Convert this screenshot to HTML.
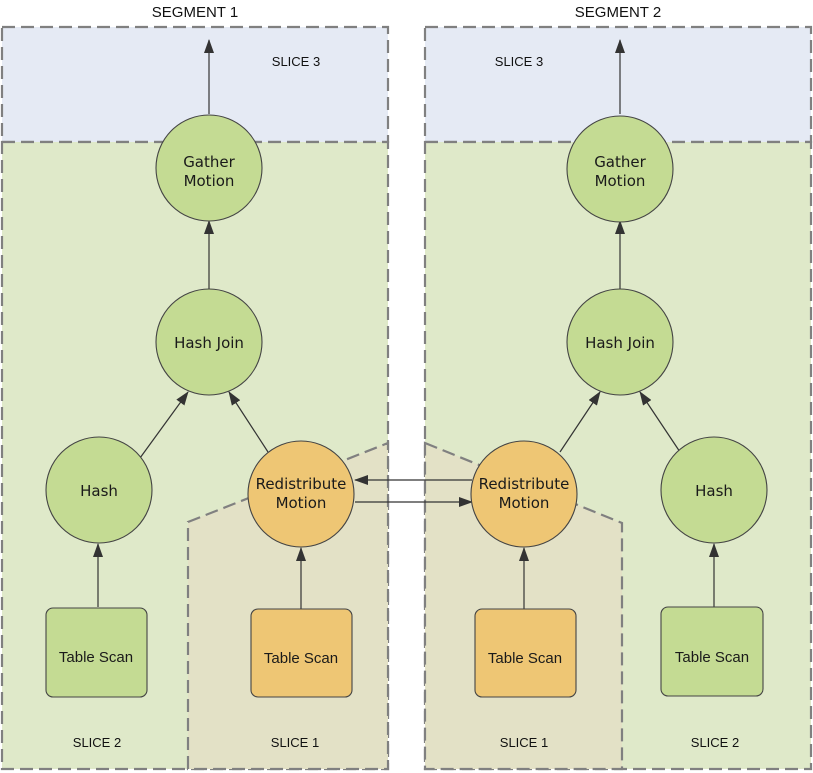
<!DOCTYPE html>
<html><head><meta charset="utf-8"><style>body{margin:0;background:#fff}svg{display:block}</style></head>
<body>
<svg width="813" height="773" viewBox="0 0 813 773" xmlns="http://www.w3.org/2000/svg" font-family="'DejaVu Sans','Liberation Sans',sans-serif">
<defs>
<marker id="a" viewBox="0 0 14 10" refX="13" refY="5" markerWidth="14" markerHeight="10" markerUnits="userSpaceOnUse" orient="auto"><path d="M0,0L14,5L0,10z" fill="#333"/></marker>
</defs>
<g stroke="#808080" stroke-width="2.2" stroke-dasharray="13,6">
<rect x="2" y="27" width="386" height="115" fill="#e5eaf4"/>
<rect x="2" y="142" width="386" height="627" fill="#dfe9c9"/>
<polygon points="188,522 388,443 388,769 188,769" fill="#e3e1c6"/>
<rect x="425" y="27" width="386" height="115" fill="#e5eaf4"/>
<rect x="425" y="142" width="386" height="627" fill="#dfe9c9"/>
<polygon points="425,443 622,523 622,769 425,769" fill="#e3e1c6"/>
</g>
<g font-family="'Liberation Sans',sans-serif" fill="#111" text-anchor="middle">
<text x="195" y="17" font-size="15">SEGMENT 1</text>
<text x="618" y="17" font-size="15">SEGMENT 2</text>
<text x="296" y="66" font-size="13">SLICE 3</text>
<text x="519" y="66" font-size="13">SLICE 3</text>
<text x="97" y="747" font-size="13">SLICE 2</text>
<text x="295" y="747" font-size="13">SLICE 1</text>
<text x="524" y="747" font-size="13">SLICE 1</text>
<text x="715" y="747" font-size="13">SLICE 2</text>
</g>
<g stroke="#333" stroke-width="1.2" fill="none" marker-end="url(#a)">
<line x1="209" y1="114" x2="209" y2="40"/>
<line x1="209" y1="289" x2="209" y2="221"/>
<line x1="140" y1="458" x2="188" y2="392"/>
<line x1="268" y1="452" x2="229" y2="392"/>
<line x1="98" y1="607" x2="98" y2="544"/>
<line x1="301" y1="609" x2="301" y2="548"/>
<line x1="472" y1="480" x2="355" y2="480"/>
<line x1="355" y1="502" x2="472" y2="502"/>
<line x1="620" y1="114" x2="620" y2="40"/>
<line x1="620" y1="289" x2="620" y2="221"/>
<line x1="560" y1="452" x2="600" y2="392"/>
<line x1="682" y1="455" x2="640" y2="392"/>
<line x1="524" y1="609" x2="524" y2="548"/>
<line x1="714" y1="607" x2="714" y2="544"/>
</g>
<g stroke="#444" stroke-width="1.1">
<circle cx="209" cy="168" r="53" fill="#c4db93"/>
<circle cx="209" cy="342" r="53" fill="#c4db93"/>
<circle cx="99" cy="490" r="53" fill="#c4db93"/>
<circle cx="301" cy="494" r="53" fill="#eec674"/>
<circle cx="620" cy="169" r="53" fill="#c4db93"/>
<circle cx="620" cy="342" r="53" fill="#c4db93"/>
<circle cx="524" cy="494" r="53" fill="#eec674"/>
<circle cx="714" cy="490" r="53" fill="#c4db93"/>
<rect x="46" y="608" width="101" height="89" rx="7" fill="#c4db93"/>
<rect x="251" y="609" width="101" height="88" rx="7" fill="#eec674"/>
<rect x="475" y="609" width="101" height="88" rx="7" fill="#eec674"/>
<rect x="661" y="607" width="102" height="89" rx="7" fill="#c4db93"/>
</g>
<g font-size="15" fill="#1a1a1a" text-anchor="middle">
<text x="209" y="167">Gather</text><text x="209" y="186">Motion</text>
<text x="209" y="348">Hash Join</text>
<text x="99" y="496">Hash</text>
<text x="301" y="489">Redistribute</text><text x="301" y="508">Motion</text>
<text x="620" y="167">Gather</text><text x="620" y="186">Motion</text>
<text x="620" y="348">Hash Join</text>
<text x="524" y="489">Redistribute</text><text x="524" y="508">Motion</text>
<text x="714" y="496">Hash</text>
</g>
<g font-family="'Liberation Sans',sans-serif" font-size="15" fill="#1a1a1a" text-anchor="middle">
<text x="96" y="662">Table Scan</text>
<text x="301" y="663">Table Scan</text>
<text x="525" y="663">Table Scan</text>
<text x="712" y="662">Table Scan</text>
</g>
</svg>
</body></html>
